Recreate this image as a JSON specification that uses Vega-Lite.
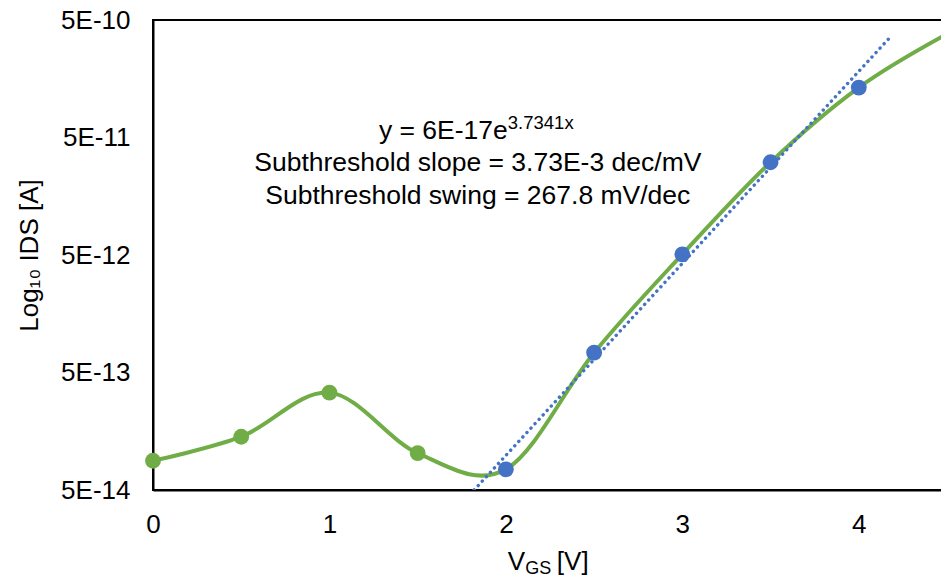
{
  "$schema": "https://vega.github.io/schema/vega-lite/v6.json",
  "width": 794,
  "height": 470,
  "autosize": "none",
  "padding": {"left": 153, "top": 20, "right": 0, "bottom": 90},
  "background": "white",
  "config": {
    "font": "Liberation Sans",
    "view": {"stroke": "#000", "strokeWidth": 2},
    "text": {"font": "Liberation Sans", "color": "#000"}
  },
  "datasets": {
    "series": [
      {"vgs": 0, "ids": 8.87e-14, "region": "below"},
      {"vgs": 0.5, "ids": 1.42e-13, "region": "below"},
      {"vgs": 1, "ids": 3.37e-13, "region": "below"},
      {"vgs": 1.5, "ids": 1.03e-13, "region": "below"},
      {"vgs": 2, "ids": 7.5e-14, "region": "above"},
      {"vgs": 2.5, "ids": 7.37e-13, "region": "above"},
      {"vgs": 3, "ids": 5.07e-12, "region": "above"},
      {"vgs": 3.5, "ids": 3.08e-11, "region": "above"},
      {"vgs": 4, "ids": 1.33e-10, "region": "above"},
      {"vgs": 4.5, "ids": 3.8e-10, "region": "above"}
    ],
    "trend": [
      {"vgs": 1.82, "ids": 5.0e-14},
      {"vgs": 4.18, "ids": 3.6e-10}
    ]
  },
  "encoding": {
    "x": {
      "field": "vgs",
      "type": "quantitative",
      "scale": {"domain": [0, 4.5], "nice": false, "zero": false},
      "axis": {
        "values": [0, 1, 2, 3, 4],
        "grid": false,
        "ticks": false,
        "domainColor": "#000",
        "domainWidth": 2,
        "labelFont": "Liberation Sans",
        "labelFontSize": 26,
        "labelColor": "#000",
        "labelPadding": 21,
        "labelFlush": false,
        "title": null
      }
    },
    "y": {
      "field": "ids",
      "type": "quantitative",
      "scale": {"type": "log", "domain": [5e-14, 5e-10], "nice": false},
      "axis": {
        "values": [5e-14, 5e-13, 5e-12, 5e-11, 5e-10],
        "labelExpr": "upper(format(datum.value, '.0e'))",
        "grid": false,
        "ticks": false,
        "domainColor": "#000",
        "domainWidth": 2,
        "labelFont": "Liberation Sans",
        "labelFontSize": 26,
        "labelColor": "#000",
        "labelPadding": 23,
        "labelFlush": false,
        "title": "Log₁₀ IDS [A]",
        "titleFont": "Liberation Sans",
        "titleFontSize": 26,
        "titleFontWeight": "normal",
        "titleColor": "#000",
        "titlePadding": 18
      }
    }
  },
  "layer": [
    {
      "data": {"name": "series"},
      "mark": {"type": "line", "interpolate": "cardinal", "color": "#70AD47", "strokeWidth": 4, "clip": true},
      "encoding": {}
    },
    {
      "data": {"name": "trend"},
      "mark": {"type": "line", "color": "#4472C4", "strokeWidth": 3.4, "strokeDash": [0.1, 5.9], "strokeCap": "round", "clip": true},
      "encoding": {}
    },
    {
      "data": {"name": "series"},
      "transform": [{"filter": "datum.vgs <= 4"}],
      "mark": {"type": "point", "filled": true, "opacity": 1, "size": 250},
      "encoding": {
        "color": {
          "field": "region",
          "type": "nominal",
          "scale": {"domain": ["below", "above"], "range": ["#70AD47", "#4472C4"]},
          "legend": null
        }
      }
    },
    {
      "data": {"values": [{"vgs": 2.011, "ids": 4.85e-11, "label": "y = 6E-17e"}]},
      "mark": {"type": "text", "align": "right", "baseline": "alphabetic", "fontSize": 26.5},
      "encoding": {"text": {"field": "label"}}
    },
    {
      "data": {"values": [{"vgs": 2.011, "ids": 4.85e-11, "label": "3.7341x"}]},
      "mark": {"type": "text", "align": "left", "baseline": "alphabetic", "fontSize": 18.5, "dy": -10},
      "encoding": {"text": {"field": "label"}}
    },
    {
      "data": {"values": [
        {"vgs": 1.841, "ids": 2.6e-11, "label": "Subthreshold slope = 3.73E-3 dec/mV"},
        {"vgs": 1.841, "ids": 1.36e-11, "label": "Subthreshold swing =  267.8 mV/dec"}
      ]},
      "mark": {"type": "text", "align": "center", "baseline": "alphabetic", "fontSize": 26.5},
      "encoding": {"text": {"field": "label"}}
    },
    {
      "data": {"values": [{"vgs": 2.011, "ids": 5e-14, "label": "V"}]},
      "mark": {"type": "text", "align": "left", "baseline": "alphabetic", "fontSize": 26, "dy": 80},
      "encoding": {"text": {"field": "label"}}
    },
    {
      "data": {"values": [{"vgs": 2.011, "ids": 5e-14, "label": "GS"}]},
      "mark": {"type": "text", "align": "left", "baseline": "alphabetic", "fontSize": 18, "dx": 17.5, "dy": 84},
      "encoding": {"text": {"field": "label"}}
    },
    {
      "data": {"values": [{"vgs": 2.011, "ids": 5e-14, "label": "[V]"}]},
      "mark": {"type": "text", "align": "left", "baseline": "alphabetic", "fontSize": 26, "dx": 49, "dy": 80},
      "encoding": {"text": {"field": "label"}}
    }
  ]
}
